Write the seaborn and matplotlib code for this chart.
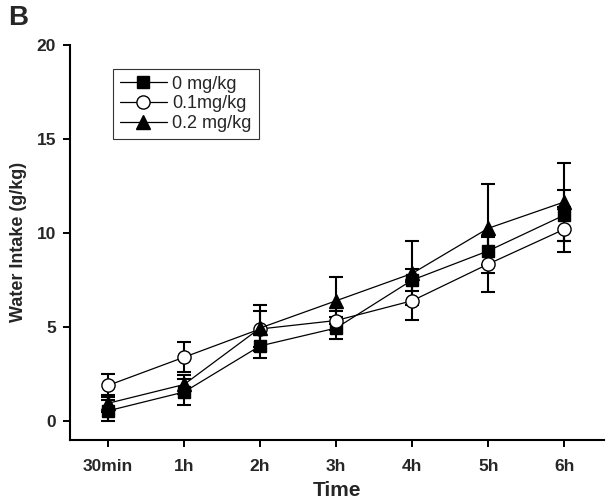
import numpy as np
import pandas as pd
import matplotlib
matplotlib.use("Agg")
import matplotlib.pyplot as plt
import seaborn as sns

times = ["30min", "1h", "2h", "3h", "4h", "5h", "6h"]
doses = ["0 mg/kg", "0.1mg/kg", "0.2 mg/kg"]
mean_0 = [0.55, 1.55, 4.0, 4.95, 7.5, 9.05, 10.95]
err_0 = [0.55, 0.7, 0.65, 0.6, 0.6, 0.75, 1.35]
mean_01 = [1.9, 3.4, 4.9, 5.35, 6.4, 8.35, 10.2]
err_01 = [0.6, 0.8, 0.95, 0.5, 1.0, 1.5, 1.2]
mean_02 = [0.95, 1.95, 4.95, 6.4, 7.85, 10.25, 11.65]
err_02 = [0.45, 0.5, 1.2, 1.25, 1.7, 2.35, 2.05]

sns.set_style("ticks")
plt.rcParams["font.family"] = ["Liberation Sans", "DejaVu Sans"]

fig = plt.figure(figsize=(6.1, 5.04), dpi=100)
ax = fig.add_axes([0.1148, 0.127, 0.875, 0.784])

pos = np.arange(len(times))
series = [
    (doses[0], mean_0, err_0, "s", "black"),
    (doses[1], mean_01, err_01, "o", "white"),
    (doses[2], mean_02, err_02, "^", "black"),
]
for label, m, e, mk, fc in series:
    df = pd.DataFrame({"pos": pos, "val": m})
    ax.errorbar(pos, m, yerr=e, fmt="none", ecolor="black", elinewidth=1.5,
                capsize=4.7, capthick=1.5, zorder=2)
    sns.lineplot(data=df, x="pos", y="val", ax=ax, color="black", lw=0.9,
                 marker=mk, markersize=9.5 if mk != "s" else 8.5,
                 markerfacecolor=fc, markeredgecolor="black",
                 markeredgewidth=1.0, label=label, zorder=3)

ax.set_xlim(-0.5, 6.52)
ax.set_ylim(-1, 20)
ax.set_yticks([0, 5, 10, 15, 20])
ax.set_xticks(pos)
ax.set_xticklabels(times)
for lab in ax.get_xticklabels() + ax.get_yticklabels():
    lab.set_fontweight("bold")
    lab.set_fontsize(12.5)
ax.tick_params(axis="both", direction="out", length=5, width=1.4, color="black", pad=5)
ax.tick_params(axis="x", pad=9)
for s in ["top", "right"]:
    ax.spines[s].set_visible(False)
for s in ["left", "bottom"]:
    ax.spines[s].set_linewidth(1.5)
    ax.spines[s].set_color("black")

ax.set_xlabel("Time", fontsize=15, fontweight="bold", labelpad=5)
ax.set_ylabel("Water Intake (g/kg)", fontsize=13, fontweight="bold")
ax.yaxis.set_label_coords(-0.08, 0.5)

leg = ax.legend(loc="upper left", bbox_to_anchor=(0.08, 0.94), fontsize=13,
                frameon=True, fancybox=False, edgecolor="black",
                handlelength=2.6, handletextpad=0.3, borderpad=0.4,
                labelspacing=0.15, borderaxespad=0)
leg.get_frame().set_linewidth(0.8)

fig.text(0.013, 0.965, "B", fontsize=20, fontweight="bold", va="center", ha="left")

fig.savefig("out.png", dpi=100)
